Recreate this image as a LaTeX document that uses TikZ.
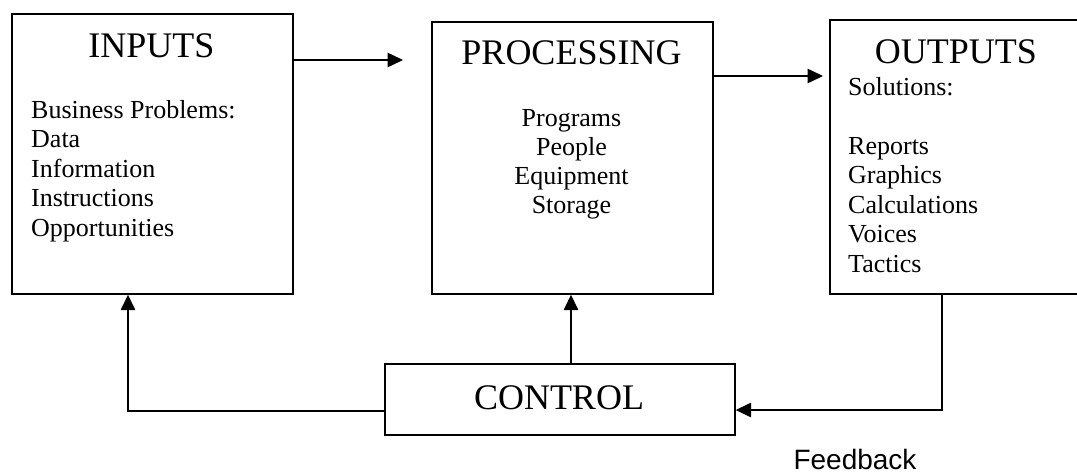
\documentclass[tikz,border=0pt]{standalone}
\usepackage{fontspec}
\setmainfont{Liberation Serif}
\newfontfamily\labelsans{Liberation Sans}
\usetikzlibrary{arrows.meta}
\begin{document}
\begin{tikzpicture}[x=1pt,y=-1pt,
  box/.style={draw,line width=1.7pt,inner sep=0pt,anchor=north west},
  title/.style={anchor=base,inner sep=0pt,font=\fontsize{36}{40}\selectfont},
  item/.style={inner sep=0pt,font=\fontsize{26}{30}\selectfont},
  arr/.style={line width=1.5pt,-{Triangle[length=15.5pt,width=14.5pt]}}]
\useasboundingbox (0,0) rectangle (1077,475);
\clip (0,0) rectangle (1077,475);

% the four blocks
\node[box,minimum width=281pt,minimum height=280pt] (inputs) at (11,13) {};
\node[box,minimum width=281pt,minimum height=272pt] (processing) at (431,21) {};
\node[box,minimum width=262pt,minimum height=274pt] (outputs) at (829,19) {};
\node[box,minimum width=350pt,minimum height=71pt] (control) at (384,363) {};

% headings
\node[title] (inputsT) at (151.5,57) {INPUTS};
\node[title] (processingT) at (571.5,64) {PROCESSING};
\node[title] (outputsT) at (956,63) {OUTPUTS};
\node[title] (controlT) at (559,409) {CONTROL};

% INPUTS list
\foreach \t [count=\i from 0] in {Business Problems:,Data,Information,Instructions,Opportunities}
  \node[item,anchor=base west] (in\i) at (31,118+29.5*\i) {\t};

% PROCESSING list
\foreach \t [count=\i from 0] in {Programs,People,Equipment,Storage}
  \node[item,anchor=base] (pr\i) at (571.5,126+29.2*\i) {\t};

% OUTPUTS list
\node[item,anchor=base west] (sol) at (848,95) {Solutions:};
\foreach \t [count=\i from 2] in {Reports,Graphics,Calculations,Voices,Tactics}
  \node[item,anchor=base west] (out\i) at (848,95+29.5*\i) {\t};

% feedback label
\node[anchor=base,inner sep=0pt,font=\labelsans\fontsize{28}{32}\selectfont] (fb) at (855,469) {Feedback};

% connectors
\coordinate (ip) at (403,60);
\draw[arr] (inputs.east |- ip) -- (ip);
\coordinate (po) at (823,76);
\draw[arr] (processing.east |- po) -- (po);
\coordinate (cl) at (128,411);
\draw[arr] (control.west |- cl) -- (cl) -- (cl |- inputs.south);
\coordinate (cp) at (571,0);
\draw[arr] (control.north -| cp) -- (processing.south -| cp);
\coordinate (fbk) at (942,410);
\draw[arr] (outputs.south -| fbk) -- (fbk) -- (control.east |- fbk);
\end{tikzpicture}
\end{document}
